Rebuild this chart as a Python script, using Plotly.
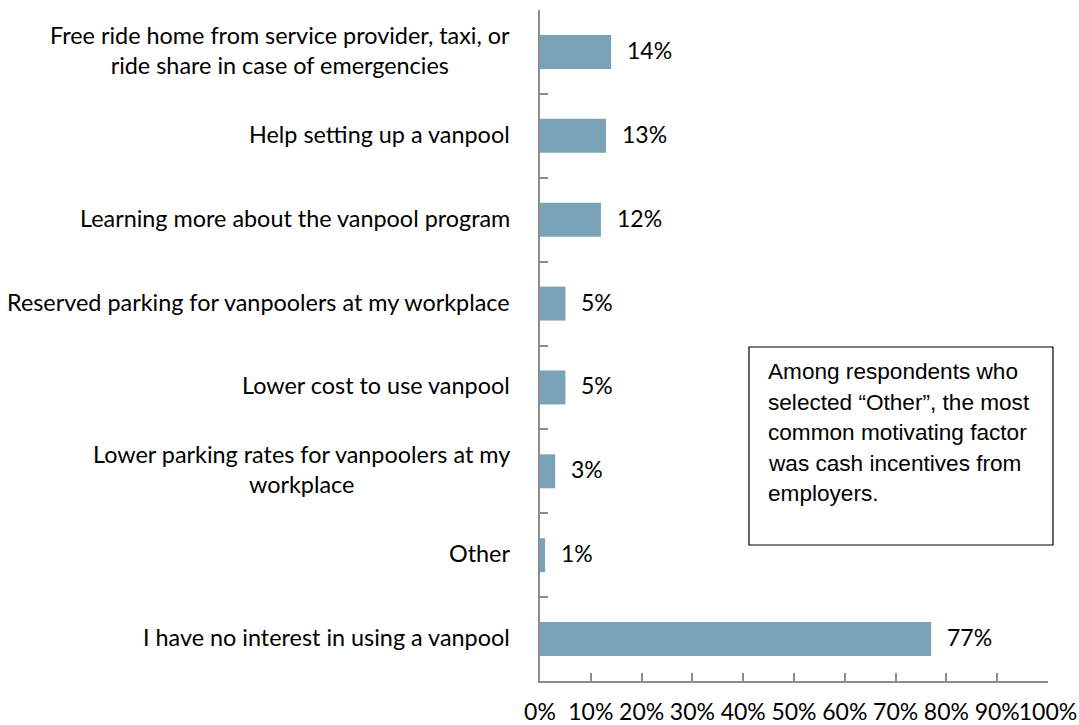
import plotly.graph_objects as go

# Survey responses: what would motivate respondents to vanpool
categories = [
    "Free ride home from service provider, taxi, or<br>ride share in case of emergencies",
    "Help setting up a vanpool",
    "Learning more about the vanpool program",
    "Reserved parking for vanpoolers at my workplace",
    "Lower cost to use vanpool",
    "Lower parking rates for vanpoolers at my<br>workplace",
    "Other",
    "I have no interest in using a vanpool",
]
shares = [0.14, 0.13, 0.12, 0.05, 0.05, 0.03, 0.01, 0.77]
x_ticks = [i / 10 for i in range(11)]

note_lines = [
    "Among respondents who",
    "selected \u201cOther\u201d, the most",
    "common motivating factor",
    "was cash incentives from",
    "employers.",
]

BAR_COLOR = "#7AA3B7"
AXIS_COLOR = "#8C8C8C"
LABEL_FONT = dict(family="Lato, Carlito, Calibri, sans-serif", size=23.4, color="#000000")
TICK_FONT = dict(family="Lato, Carlito, Calibri, sans-serif", size=23, color="#000000")
NOTE_FONT = dict(family="Liberation Sans, Arial, sans-serif", size=22.6, color="#000000")

fig = go.Figure(
    go.Bar(
        x=shares,
        y=categories,
        orientation="h",
        width=0.405,
        marker=dict(color=BAR_COLOR, line=dict(width=0)),
        hoverinfo="skip",
    )
)

annotations = []
# Category labels: right-aligned block, centred lines
for cat in categories:
    annotations.append(dict(
        x=0, xref="paper", y=cat, yref="y",
        text=cat, showarrow=False, xanchor="right", yanchor="middle",
        align="center", xshift=-28, yshift=2, font=LABEL_FONT,
    ))
# Value labels next to each bar
for cat, v in zip(categories, shares):
    annotations.append(dict(
        x=v, xref="x", y=cat, yref="y",
        text=f"{v:.0%}", showarrow=False, xanchor="left", yanchor="middle",
        xshift=14, yshift=2, font=TICK_FONT,
    ))
# Note text inside the box, one line per annotation
note_top = 0.4978
for i, line in enumerate(note_lines):
    annotations.append(dict(
        x=0.4488, xref="paper", y=note_top, yref="paper",
        text=line, showarrow=False, xanchor="left", yanchor="middle",
        xshift=-2, yshift=-(25 + 30.5 * i), font=NOTE_FONT,
    ))

fig.update_layout(
    width=1079, height=725,
    margin=dict(l=540, r=31, t=10, b=44, autoexpand=False),
    paper_bgcolor="white", plot_bgcolor="white",
    showlegend=False,
    annotations=annotations,
    shapes=[dict(
        type="rect", xref="paper", yref="paper",
        x0=0.4114, x1=1.0098, y0=0.2027, y1=0.4978,
        line=dict(color="#000000", width=1.2), fillcolor="rgba(0,0,0,0)",
    )],
    xaxis=dict(
        range=[0, 1], tickvals=x_ticks, tickformat=".0%", tickangle=0,
        showgrid=False, zeroline=False, automargin=False,
        showline=True, linecolor=AXIS_COLOR, linewidth=1.5,
        ticks="inside", ticklen=8, tickcolor=AXIS_COLOR, tickwidth=1.5,
        ticklabelstandoff=10,
        tickfont=TICK_FONT,
    ),
    yaxis=dict(
        autorange="reversed", type="category", automargin=False,
        showticklabels=False, showgrid=False, zeroline=False,
        showline=True, linecolor=AXIS_COLOR, linewidth=1.5,
        ticks="inside", ticklen=8, tickcolor=AXIS_COLOR, tickwidth=1.5,
        tickson="boundaries",
    ),
)

fig.write_html("out.html")
